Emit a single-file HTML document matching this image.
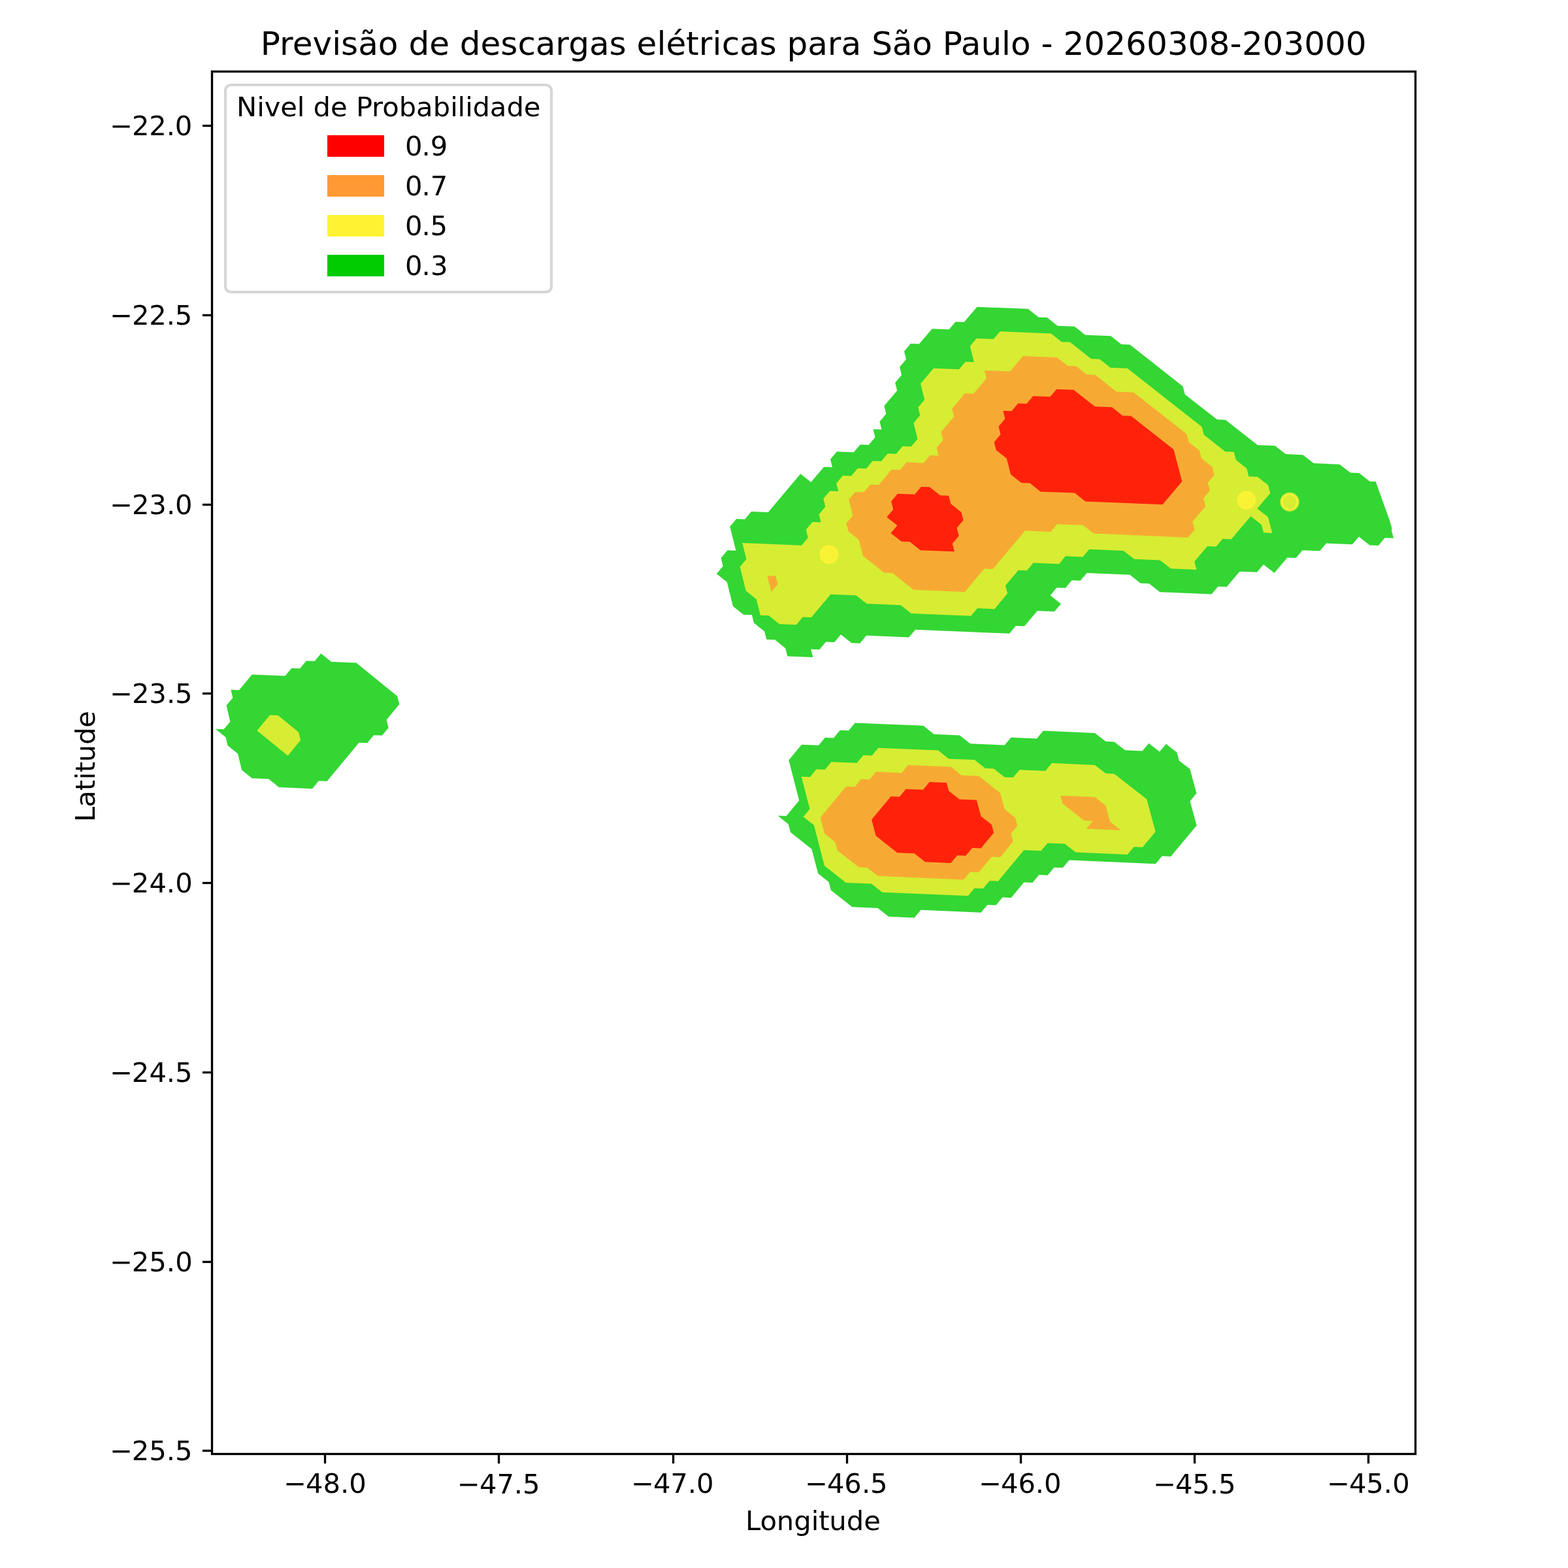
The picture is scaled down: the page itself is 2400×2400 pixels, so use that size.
<!DOCTYPE html>
<html lang="pt-BR"><head><meta charset="utf-8"><title>Previsão de descargas elétricas para São Paulo</title>
<style>html,body{margin:0;padding:0;background:#fff}body{width:2400px;height:2400px;overflow:hidden}svg{display:block}text{font-family:'DejaVu Sans','Liberation Sans',sans-serif;fill:#000}</style></head><body>
<svg xmlns="http://www.w3.org/2000/svg" width="2400" height="2400" viewBox="0 0 2400 2400">
<rect width="2400" height="2400" fill="#fff"/>
<defs><clipPath id="ax"><rect x="324.5" y="109.5" width="1842" height="2116"/></clipPath></defs>
<g clip-path="url(#ax)" fill-opacity="0.8" stroke-opacity="0.8" stroke-width="0" stroke-linejoin="miter">
<path fill="#00cc00" stroke="none" fill-rule="evenodd" d="M491.37 1000.14L507.05 1012.94L545.29 1014.45L608.25 1065.74L611.23 1078.06L591.63 1101.7L594.62 1114.03L584.82 1125.86L572.03 1125.34L562.24 1137.17L549.45 1136.66L500.51 1195.83L487.74 1195.32L477.96 1207.16L426.91 1205.12L411.19 1192.27L385.7 1191.26L370.01 1178.41L364.11 1153.73L348.45 1140.9L345.52 1128.57L329.88 1115.74L342.58 1116.24L352.36 1104.42L346.52 1079.78L356.3 1067.97L353.38 1055.66L366.09 1056.16L385.66 1032.54L436.52 1034.54L446.31 1022.74L459.04 1023.24L468.84 1011.44L481.57 1011.94Z M1346.43 645.28L1349.48 657.53L1336.51 657.01L1339.56 669.26L1329.65 680.99L1316.68 680.47L1306.77 692.2L1280.86 691.16L1270.96 702.89L1274 715.15L1261.05 714.63L1241.25 738.12L1225.26 725.33L1175.8 784.07L1149.95 783.02L1140.07 794.78L1127.15 794.26L1117.27 806.02L1126.4 842.87L1113.48 842.34L1103.6 854.11L1106.65 866.4L1096.78 878.17L1112.77 890.99L1121.97 927.91L1137.99 940.74L1150.94 941.27L1154.03 953.59L1170.09 966.43L1173.19 978.76L1186.16 979.29L1202.25 992.15L1205.37 1004.48L1244.35 1006.08L1241.22 993.75L1254.22 994.28L1264.09 982.49L1277.1 983.02L1286.97 971.23L1303.12 984.09L1316.14 984.63L1326.02 972.84L1391.2 975.53L1401.09 963.74L1544.93 969.71L1554.83 957.92L1567.94 958.47L1587.76 934.89L1614 935.99L1623.91 924.2L1607.59 911.33L1617.51 899.55L1630.63 900.1L1640.55 888.32L1653.68 888.87L1663.6 877.09L1729.32 879.84L1745.7 892.72L1758.87 893.27L1775.28 906.15L1854.45 909.49L1864.4 897.71L1877.61 898.27L1897.52 874.72L1923.97 875.83L1933.92 864.06L1950.44 876.95L1970.36 853.41L1983.61 853.97L1993.58 842.21L2020.09 843.33L2030.07 831.56L2069.88 833.25L2079.86 821.49L2096.45 834.38L2109.74 834.94L2119.73 823.18L2133.03 823.75L2129.72 811.42L2130.7 809.35L2126.8 795.95L2105.61 737.05L2096.69 736.97L2080.15 724.11L2066.89 723.55L2050.38 710.69L2010.67 709.03L1994.2 696.18L1967.77 695.08L1951.34 682.24L1924.95 681.14L1875.83 642.66L1862.67 642.12L1813.73 603.69L1810.57 591.44L1729.39 527.52L1716.31 526.99L1700.13 514.22L1660.94 512.63L1644.81 499.87L1618.72 498.81L1602.62 486.06L1589.59 485.53L1573.52 472.79L1495.51 469.65L1475.6 493.04L1462.62 492.52L1452.67 504.22L1426.73 503.18L1406.84 526.58L1393.88 526.06L1383.94 537.76L1386.96 549.98L1377.03 561.69L1380.06 573.92L1370.13 585.64L1373.17 597.87L1353.31 621.31L1356.36 633.56Z M1567.29 1350.38L1547.58 1374.13L1534.39 1373.57L1524.54 1385.45L1511.36 1384.88L1501.51 1396.76L1409.4 1392.83L1399.56 1404.71L1360.16 1403.03L1343.75 1390.03L1304.43 1388.36L1271.72 1362.39L1268.47 1349.97L1252.15 1336.99L1242.45 1299.75L1209.92 1273.85L1206.71 1261.45L1190.48 1248.51L1203.51 1249.05L1223.19 1225.35L1207.27 1163.45L1226.97 1139.79L1253.02 1140.87L1262.87 1129.04L1275.91 1129.58L1285.77 1117.76L1298.81 1118.3L1308.67 1106.48L1413.18 1110.84L1429.48 1123.76L1468.78 1125.41L1485.13 1138.33L1537.63 1140.54L1547.52 1128.72L1586.95 1130.38L1596.84 1118.56L1675.86 1121.91L1692.34 1134.85L1705.54 1135.41L1722.05 1148.36L1748.47 1149.49L1758.38 1137.66L1774.92 1150.62L1784.83 1138.79L1801.39 1151.75L1804.73 1164.15L1821.31 1177.12L1831.37 1214.35L1821.47 1226.19L1831.58 1263.46L1792.01 1310.89L1778.74 1310.32L1768.86 1322.18L1636.49 1316.48L1626.62 1328.34L1613.41 1327.78L1603.55 1339.65L1590.35 1339.08L1580.48 1350.95Z"/>
<path fill="#fff333" stroke="none" fill-rule="evenodd" d="M413.02 1094.61L425.75 1095.11L457.13 1120.77L460.09 1133.1L440.52 1156.76L393.45 1118.25Z M1398.34 647.38L1404.46 671.89L1394.54 683.62L1381.55 683.09L1371.64 694.83L1358.65 694.3L1348.74 706.04L1335.76 705.51L1325.85 717.25L1312.88 716.73L1302.97 728.47L1290.01 727.94L1280.11 739.69L1283.17 751.96L1270.21 751.43L1260.31 763.18L1263.37 775.45L1253.47 787.21L1256.54 799.49L1243.58 798.96L1233.69 810.72L1236.76 823.01L1226.87 834.77L1136.28 831.1L1142.38 855.68L1132.51 867.45L1141.71 904.35L1157.73 917.18L1163.9 941.8L1176.86 942.33L1192.93 955.18L1218.88 956.24L1228.75 944.45L1241.73 944.98L1271.37 909.63L1310.36 911.23L1326.5 924.08L1378.59 926.22L1394.77 939.08L1486.19 942.87L1496.09 931.08L1522.26 932.17L1542.07 908.6L1538.89 896.28L1558.72 872.73L1571.81 873.28L1581.73 861.51L1621.04 863.14L1630.97 851.37L1657.21 852.46L1667.14 840.69L1719.68 842.88L1736.04 855.75L1775.52 857.4L1791.92 870.27L1831.48 871.93L1828.24 859.61L1848.14 836.08L1861.33 836.63L1871.29 824.87L1884.49 825.42L1914.38 790.15L1930.84 803.01L1934.1 815.33L1947.32 815.89L1940.81 791.26L1924.35 778.39L1944.3 754.89L1941.06 742.59L1924.62 729.74L1911.43 729.19L1908.21 716.9L1891.81 704.06L1888.6 691.77L1875.42 691.22L1842.71 665.57L1839.53 653.3L1725.64 563.71L1699.47 562.64L1683.29 549.86L1670.22 549.33L1637.92 523.8L1624.87 523.27L1608.75 510.51L1530.62 507.35L1520.67 519.05L1494.67 518L1484.72 529.71L1490.82 554.17L1477.82 553.64L1467.87 565.35L1428.91 563.78L1409.04 587.2L1415.14 611.68L1405.21 623.4L1408.26 635.65Z M1567.18 1301.22L1527.74 1348.69L1514.56 1348.13L1504.71 1360L1491.54 1359.44L1481.69 1371.31L1350.31 1365.72L1333.93 1352.73L1294.64 1351.07L1261.98 1325.13L1245.85 1263.08L1229.59 1250.14L1239.43 1238.29L1226.65 1188.74L1239.68 1189.28L1249.53 1177.45L1262.57 1177.99L1272.42 1166.16L1311.57 1167.79L1321.43 1155.96L1334.49 1156.5L1344.35 1144.67L1435.93 1148.51L1452.27 1161.44L1491.62 1163.1L1508 1176.04L1521.14 1176.59L1537.54 1189.54L1550.69 1190.1L1560.57 1178.26L1600.05 1179.93L1609.94 1168.1L1675.85 1170.9L1692.36 1183.86L1705.56 1184.43L1755.22 1223.34L1768.63 1273.02L1748.86 1296.74L1735.61 1296.17L1725.73 1308.03L1646.36 1304.61L1629.82 1291.62L1603.42 1290.49L1593.55 1302.35Z"/>
<circle cx="1268.86" cy="848.65" r="12.5" fill="#fff333" stroke="#fff333" stroke-width="4.17"/>
<circle cx="1907.91" cy="765.53" r="12.5" fill="#fff333" stroke="#fff333" stroke-width="4.17"/>
<circle cx="1973.98" cy="768.31" r="12.5" fill="#fff333" stroke="#fff333" stroke-width="4.17"/>
<path fill="#ff9933" stroke="none" fill-rule="evenodd" d="M1440.39 661.21L1443.46 673.47L1433.54 685.2L1436.62 697.46L1423.61 696.93L1413.69 708.67L1387.7 707.62L1377.78 719.36L1364.79 718.83L1344.97 742.31L1331.99 741.79L1322.08 753.53L1309.1 753.01L1299.2 764.76L1305.35 789.31L1295.45 801.07L1298.54 813.36L1314.61 826.18L1320.81 850.77L1353.04 876.43L1366.06 876.97L1398.38 902.66L1476.68 905.89L1506.4 870.57L1519.48 871.11L1569.07 812.28L1608.34 813.91L1618.27 802.15L1657.58 803.78L1673.88 816.62L1818.53 822.66L1828.49 810.9L1825.26 798.59L1845.18 775.08L1841.96 762.78L1851.93 751.03L1848.72 738.73L1858.68 726.99L1855.48 714.7L1839.12 701.87L1835.93 689.58L1819.59 676.76L1816.41 664.48L1735.02 600.46L1708.83 599.38L1676.43 573.81L1663.35 573.28L1647.19 560.51L1634.13 559.97L1617.99 547.2L1565.84 545.09L1545.93 568.51L1506.88 566.93L1509.95 579.16L1490.06 602.59L1477.05 602.07L1457.18 625.51L1460.25 637.76Z M1174.4 881.32L1187.35 881.85L1190.43 894.15L1180.55 905.92Z M1390.01 1171.07L1455.51 1173.82L1471.87 1186.77L1498.13 1187.87L1530.94 1213.78L1537.51 1238.59L1553.96 1251.55L1557.26 1263.97L1547.39 1275.82L1550.69 1288.24L1530.97 1311.96L1517.8 1311.4L1498.09 1335.13L1484.93 1334.57L1475.07 1346.44L1343.77 1340.86L1327.4 1327.89L1314.31 1327.33L1281.65 1301.4L1278.42 1288.99L1262.12 1276.03L1255.69 1251.23L1295.07 1203.85L1308.13 1204.39L1317.99 1192.55L1331.05 1193.1L1340.91 1181.26L1380.15 1182.91Z M1623.11 1217.69L1675.89 1219.95L1692.43 1232.92L1699.09 1257.75L1715.66 1270.74L1662.78 1268.47L1672.66 1256.62L1659.45 1256.05L1626.42 1230.1Z"/>
<path fill="#ff0000" stroke="none" fill-rule="evenodd" d="M1701.99 623.36L1675.81 622.29L1643.43 596.71L1617.31 595.64L1607.35 607.36L1581.25 606.3L1571.3 618.02L1558.26 617.49L1548.32 629.21L1535.28 628.68L1538.37 640.93L1528.43 652.66L1531.53 664.92L1521.59 676.65L1524.7 688.91L1540.85 701.72L1547.09 726.26L1563.28 739.08L1576.34 739.62L1592.56 752.44L1644.91 754.6L1661.18 767.43L1779.35 772.33L1809.22 737.09L1796.47 687.95L1731.33 636.7L1718.23 636.16Z M1409.95 744.96L1422.96 745.49L1439.08 758.3L1452.1 758.83L1455.22 771.11L1471.37 783.93L1474.49 796.22L1464.58 807.98L1467.71 820.28L1457.8 832.04L1460.93 844.34L1408.78 842.2L1392.64 829.36L1379.62 828.83L1363.5 816.01L1373.41 804.25L1357.31 791.43L1367.21 779.68L1364.12 767.39L1374.03 755.64L1400.04 756.7Z M1422.67 1196.95L1448.89 1198.05L1452.14 1210.45L1468.52 1223.4L1494.79 1224.51L1501.34 1249.32L1517.77 1262.29L1521.06 1274.7L1501.34 1298.42L1488.19 1297.86L1478.33 1309.72L1465.18 1309.16L1455.33 1321.02L1415.92 1319.35L1399.52 1306.37L1373.29 1305.26L1340.58 1279.33L1334.1 1254.52L1363.66 1218.98L1376.75 1219.53L1386.61 1207.69L1412.8 1208.79Z"/>
</g>
<g stroke="#000" stroke-width="3.33" fill="none">
<path d="M497.5 2225.5 v14.58"/>
<path d="M763.5 2225.5 v14.58"/>
<path d="M1030.5 2225.5 v14.58"/>
<path d="M1296.5 2225.5 v14.58"/>
<path d="M1562.5 2225.5 v14.58"/>
<path d="M1828.5 2225.5 v14.58"/>
<path d="M2094.5 2225.5 v14.58"/>
<path d="M324.5 192.5 h-14.58"/>
<path d="M324.5 482.5 h-14.58"/>
<path d="M324.5 772.5 h-14.58"/>
<path d="M324.5 1061.5 h-14.58"/>
<path d="M324.5 1351.5 h-14.58"/>
<path d="M324.5 1641.5 h-14.58"/>
<path d="M324.5 1931.5 h-14.58"/>
<path d="M324.5 2220.5 h-14.58"/>
<rect x="324.5" y="109.5" width="1842" height="2116" stroke-linejoin="miter"/>
</g>
<text id="xt0" font-size="41.67" x="434.37 468 494.43 520.92 534.18" y="2285.33">−48.0</text>
<text id="xt1" font-size="41.67" x="700.12 734.02 760.45 786.68 800.02" y="2286.33">−47.5</text>
<text id="xt2" font-size="41.67" x="966.27 999.92 1026.34 1052.83 1066.11" y="2285.33">−47.0</text>
<text id="xt3" font-size="41.67" x="1232.36 1266.01 1292.33 1318.96 1332.05" y="2285.33">−46.5</text>
<text id="xt4" font-size="41.67" x="1498.26 1531.9 1558.48 1584.87 1598.1" y="2285.33">−46.0</text>
<text id="xt5" font-size="41.67" x="1765.17 1799.05 1825.32 1851.8 1865.08" y="2286.33">−45.5</text>
<text id="xt6" font-size="41.67" x="2031.32 2064.96 2091.23 2117.86 2131.16" y="2285.33">−45.0</text>
<text id="yt0" font-size="41.67" x="168.18 201.95 228.21 254.71 267.78" y="207">−22.0</text>
<text id="yt1" font-size="41.67" x="168.18 201.95 228.21 254.71 267.83" y="497">−22.5</text>
<text id="yt2" font-size="41.67" x="168.16 201.94 228.37 254.98 268.03" y="787">−23.0</text>
<text id="yt3" font-size="41.67" x="168.16 201.94 228.37 254.98 268.1" y="1076">−23.5</text>
<text id="yt4" font-size="41.67" x="168.28 201.83 228.43 254.84 268.14" y="1366">−24.0</text>
<text id="yt5" font-size="41.67" x="168.28 201.83 228.43 254.84 267.95" y="1656">−24.5</text>
<text id="yt6" font-size="41.67" x="168.28 201.83 228.23 254.84 268.14" y="1946">−25.0</text>
<text id="yt7" font-size="41.67" x="168.28 201.83 228.23 254.84 267.95" y="2235">−25.5</text>
<text id="xlabel" font-size="41.67" x="1140.96 1163.46 1188.84 1215.26 1241.67 1253.32 1269.35 1295.87 1322.31" y="2342.32">Longitude</text>
<text id="ylabel" font-size="41.67" x="145.44 168.09 193.59 210.07 221.47 237.34 263.72 289.79" y="1258.19" transform="rotate(-90 145.31 1258.19)">Latitude</text>
<text id="title" font-size="50" x="398.86 428.07 447.87 478.4 508.27 522.1 548.29 578.86 609.49 625.39 657.13 687.88 703.86 735.6 766.14 792.41 819.82 850.37 870.22 902.04 932.61 958.74 974.59 1005.45 1019.39 1050.1 1069.75 1090.46 1104.67 1132.05 1162.61 1188.73 1204.49 1236.28 1266.76 1287.56 1318.18 1334.18 1365.84 1396.33 1426.95 1442.84 1470.81 1501.45 1532.99 1547.1 1577.72 1593.43 1611.56 1627.53 1659.19 1691.15 1723.04 1754.96 1787 1818.57 1850.53 1882.41 1900.9 1932.54 1964.56 1996.15 2028.08 2059.76" y="83.5">Previsão de descargas elétricas para São Paulo - 20260308-203000</text>
<rect x="345" y="130" width="499" height="317" rx="8.33" ry="8.33" fill="#fff" fill-opacity="0.8" stroke="#ccc" stroke-opacity="0.8" stroke-width="4.17"/>
<text id="ltitle" font-size="41.67" x="361.99 393.14 404.7 429.25 454.87 466.37 479.52 505.99 531.62 544.92 569.06 585.31 610.87 637.01 662.86 689.14 700.62 712.14 723.52 749.8 775.54 801.76" y="178">Nivel de Probabilidade</text>
<rect x="501" y="207" width="87" height="33" fill="#ff0000"/>
<text id="lab0" font-size="41.67" x="620.01 645.5 658.77" y="237.6">0.9</text>
<rect x="501" y="268" width="87" height="33" fill="#ff9933"/>
<text id="lab1" font-size="41.67" x="620.01 645.5 658.76" y="298.6">0.7</text>
<rect x="501" y="329" width="87" height="33" fill="#fff333"/>
<text id="lab2" font-size="41.67" x="620.01 645.5 658.59" y="359.6">0.5</text>
<rect x="501" y="390" width="87" height="33" fill="#00cc00"/>
<text id="lab3" font-size="41.67" x="620.01 645.5 658.92" y="420.6">0.3</text>
</svg></body></html>
